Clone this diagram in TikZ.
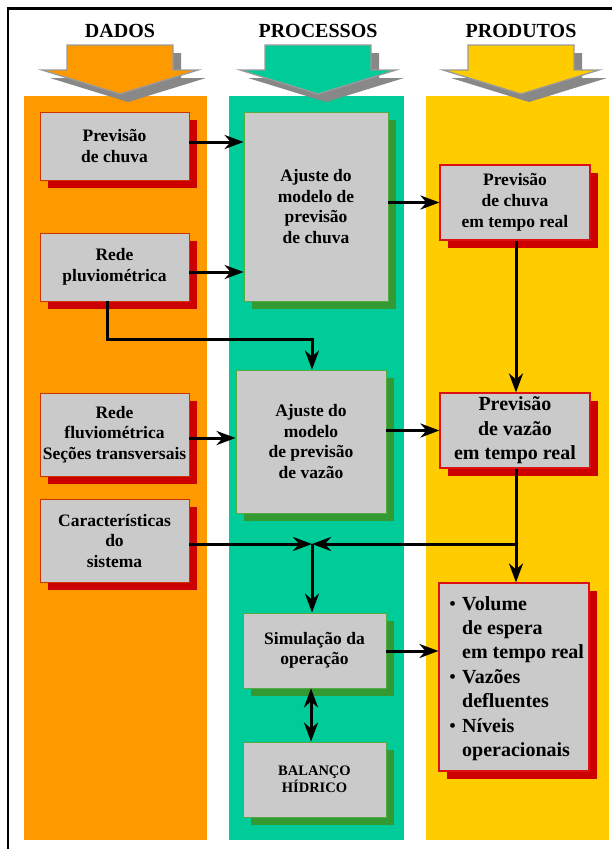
\documentclass[tikz,border=0pt]{standalone}
\usepackage{fontspec}
\setmainfont{Liberation Serif}
\usetikzlibrary{arrows.meta,shadows}
\definecolor{colorange}{HTML}{FF9900}
\definecolor{colgreen}{HTML}{00CC99}
\definecolor{colyellow}{HTML}{FFCC00}
\definecolor{boxgray}{HTML}{CACACA}
\definecolor{shred}{HTML}{CC0000}
\definecolor{shgreen}{HTML}{339933}
\definecolor{bdorange}{HTML}{CC3300}
\definecolor{bdgreen}{HTML}{55AA44}
\definecolor{bdred}{HTML}{DD1111}
\definecolor{hdrshadow}{HTML}{888888}
\definecolor{hdroutline}{HTML}{9A9A9A}
\newcommand{\hdrarrow}[2]{%
  \fill[hdrshadow] ({#1-45},53) -- ({#1+61},53) -- ({#1+61},78) -- ({#1+86},78) -- ({#1+8},102) -- ({#1-70},78) -- ({#1-45},78) -- cycle;
  \filldraw[fill=#2, draw=hdroutline, line width=1.3pt, line join=miter] ({#1-53},45) -- ({#1+53},45) -- ({#1+53},70) -- ({#1+78},70) -- ({#1},94) -- ({#1-78},70) -- ({#1-53},70) -- cycle;
}
\tikzset{
  basebox/.style={fill=boxgray, inner sep=0pt, align=center, line width=0.8pt},
  dbox/.style={basebox, draw=bdorange, drop shadow={fill=shred, opacity=1, shadow xshift=8pt, shadow yshift=-8pt},
    font=\fontsize{17.5}{20.5}\selectfont\bfseries},
  pbox/.style={basebox, draw=bdgreen, drop shadow={fill=shgreen, opacity=1, shadow xshift=8pt, shadow yshift=-8pt},
    font=\fontsize{17.5}{20.5}\selectfont\bfseries},
  rbox/.style={basebox, draw=bdred, line width=1.1pt, drop shadow={fill=shred, opacity=1, shadow xshift=8pt, shadow yshift=-8pt},
    font=\fontsize{17.5}{21}\selectfont\bfseries},
  bigtext/.style={font=\fontsize{20}{24.4}\selectfont\bfseries},
  hdr/.style={font=\fontsize{20}{24}\selectfont\bfseries, anchor=base, inner sep=0pt},
  arr/.style={line width=3pt, -{Stealth[length=19pt,width=14pt,inset=6pt]}},
  darr/.style={line width=3pt, {Stealth[length=19pt,width=14pt,inset=6pt]}-{Stealth[length=19pt,width=14pt,inset=6pt]}},
  ln/.style={line width=3pt}
}
\begin{document}
\begin{tikzpicture}[x=1pt,y=-1pt]
\useasboundingbox (0,0) rectangle (612,849);
% frame
\draw[line width=2.5pt] (8,849) -- (8,8.5) -- (612,8.5);
% columns
\fill[colorange] (24,96) rectangle (207,840);
\fill[colgreen] (229,96) rectangle (404,840);
\fill[colyellow] (426,96) rectangle (609,840);
% header arrows
\hdrarrow{120}{colorange}
\hdrarrow{318}{colgreen}
\hdrarrow{521}{colyellow}
\node[hdr] (h1) at (120,37) {DADOS};
\node[hdr] (h2) at (318,37) {PROCESSOS};
\node[hdr] (h3) at (521,37) {PRODUTOS};
% DADOS
\node[dbox, minimum width=149pt, minimum height=68pt] (p1) at (114.5,146) {Previsão\\de chuva};
\node[dbox, minimum width=149pt, minimum height=68pt] (p2) at (114.5,267) {Rede\\pluviométrica};
\node[dbox, minimum width=149pt, minimum height=83pt] (p3) at (114.5,434.5) {Rede\\fluviométrica\\Seções transversais};
\node[dbox, minimum width=149pt, minimum height=83pt] (p4) at (114.5,540.5) {Características\\do\\sistema};
% PROCESSOS
\node[pbox, minimum width=144pt, minimum height=189pt] (q1) at (316,206.5) {Ajuste do\\modelo de\\previsão\\de chuva};
\node[pbox, minimum width=150pt, minimum height=143pt] (q2) at (311,441.5) {Ajuste do\\modelo\\de previsão\\de vazão};
\node[pbox, minimum width=143pt, minimum height=75pt] (q3) at (314.5,650.5) {Simulação da\\operação};
\node[pbox, minimum width=143pt, minimum height=75pt, font=\fontsize{14.5}{17.5}\selectfont\bfseries] (q4) at (314.5,779.5) {BALANÇO\\HÍDRICO};
% PRODUTOS
\node[rbox, minimum width=150pt, minimum height=75pt] (r1) at (515,202.5) {Previsão\\de chuva\\em tempo real};
\node[rbox, minimum width=150pt, minimum height=75pt, bigtext] (r2) at (515,430.5) {Previsão\\de vazão\\em tempo real};
\node[rbox, minimum width=150pt, minimum height=188pt] (r3) at (514,677) {};
\node[bigtext, anchor=north west, inner sep=0pt, align=left] (r3t) at (449,596) {%
\makebox[13pt][l]{\textmd{\textbullet}}Volume\\
\hspace*{13pt}de espera\\
\hspace*{13pt}em tempo real\\
\makebox[13pt][l]{\textmd{\textbullet}}Vazões\\
\hspace*{13pt}defluentes\\
\makebox[13pt][l]{\textmd{\textbullet}}Níveis\\
\hspace*{13pt}operacionais};
% connectors
\coordinate (j) at (312,544);
\coordinate (split) at (516,544);
\coordinate (bend) at (107,339);
\draw[arr] (p1.east |- 0,142) -- (q1.west |- 0,142);
\draw[arr] (p2.east |- 0,272) -- (q1.west |- 0,272);
\draw[arr] (q1.east |- r1.west) -- (r1.west);
\draw[arr] (r1.south -| 516,0) -- (r2.north -| 516,0);
\draw[arr] (p2.south -| bend) -- (bend) -| (q2.north -| j);
\draw[arr] (p3.east |- 0,438) -- (q2.west |- 0,438);
\draw[arr] (q2.east |- r2.west) -- (r2.west);
\draw[arr] (p4.east |- j) -- (j);
\draw[ln] (r2.south -| split) -- (split);
\draw[arr] (split) -- (j);
\draw[arr] (split) -- (r3.north -| split);
\draw[arr] (j) -- (q3.north -| j);
\draw[arr] (q3.east |- 0,651) -- (r3.west |- 0,651);
\draw[darr] (q3.south -| 311,0) -- (q4.north -| 311,0);
\end{tikzpicture}
\end{document}
